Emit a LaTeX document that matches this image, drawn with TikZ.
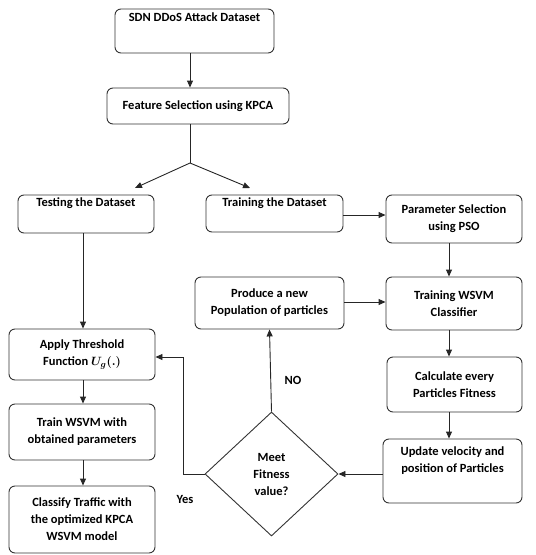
\documentclass[tikz,border=0pt]{standalone}
\usepackage{amsmath}
\usepackage{fontspec}
\setmainfont{Carlito}
\usepackage{tikz}
\usetikzlibrary{shapes.geometric,arrows.meta}
\tikzset{
  box/.style={draw=black!80, line width=0.9pt, rounded corners=6pt, align=center, inner sep=2pt},
  arr/.style={black!85, line width=0.9pt, -{Triangle[length=7pt,width=6pt]}},
  txt/.style={font=\bfseries\boldmath\fontsize{12.5}{17}\selectfont}
}
\begin{document}
\begin{tikzpicture}[x=1pt,y=-1pt,txt]
   \useasboundingbox (0,0) rectangle (536,555);
   % top of the chart
   \node [box,minimum width=159pt,minimum height=44pt] (sdn) at (194.5,31) {SDN DDoS Attack Dataset\\[10pt]};
   \node [box,minimum width=182pt,minimum height=36pt] (feat) at (198,106) {Feature Selection using KPCA};
   \coordinate (split) at (190,163);
   \coordinate (totest) at (135,188);
   \coordinate (totrain) at (250,188);
   % the three boxes in a row
   \node [box,minimum width=136pt,minimum height=38pt] (test) at (86,214) {Testing the Dataset\\[6pt]};
   \node [box,minimum width=137pt,minimum height=37pt] (train) at (274.5,213.5) {Training the Dataset\\[6pt]};
   \node [box,minimum width=136pt,minimum height=48pt] (param) at (454,219) {Parameter Selection\\using PSO};
   % left column
   \node [box,minimum width=146pt,minimum height=51pt] (apply) at (82,354.5) {Apply Threshold\\Function $U_g(.)$};
   \node [box,minimum width=146pt,minimum height=56pt] (trainw) at (82,432) {Train WSVM with\\obtained parameters};
   \node [box,minimum width=146pt,minimum height=67pt] (classify) at (82,519.5) {Classify Traffic with\\the optimized KPCA\\WSVM model};
   % PSO loop
   \node [box,minimum width=149pt,minimum height=52pt] (produce) at (269.5,303) {Produce a new\\Population of particles};
   \node [box,minimum width=136pt,minimum height=53pt] (wsvm) at (454,303.5) {Training WSVM\\Classifier};
   \node [box,minimum width=135pt,minimum height=55pt] (calc) at (454.5,384.5) {Calculate every\\Particles Fitness};
   \node [box,minimum width=139pt,minimum height=64pt] (update) at (452.5,471) {Update velocity and\\position of Particles\\[6pt]};
   \node [draw=black!80,line width=0.9pt,diamond,minimum width=133pt,minimum height=124pt,inner sep=0pt,align=center] (fit) at (271.5,474) {Meet\\Fitness\\value?};
   \node (no) at (293,380) {NO};
   \node (yes) at (185,499) {Yes};
   % connectors
   \draw [arr] (sdn.south -| split) -- (feat.north -| split);
   \draw [black!85,line width=0.9pt] (feat.south -| split) -- (split); % stem
   \draw [arr] (split) -- (totest);
   \draw [arr] (split) -- (totrain);
   \draw [arr] (train.east |- 0,215) -- (param.west |- 0,215);
   \draw [arr] (test.south -| 83,0) -- (apply.north -| 83,0);
   \draw [arr] (apply.south -| 83,0) -- (trainw.north -| 83,0);
   \draw [arr] (trainw.south -| 83,0) -- (classify.north -| 83,0);
   \draw [arr] (param.south -| 449,0) -- (wsvm.north -| 449,0);
   \draw [arr] (wsvm.south -| 449,0) -- (calc.north -| 449,0);
   \draw [arr] (calc.south -| 449,0) -- (update.north -| 449,0);
   \draw [arr] (produce.east |- 0,302) -- (wsvm.west |- 0,302);
   \draw [arr] (update.west |- fit) -- (fit.east);
   \draw [arr] (fit.north) -- (produce.south);
   \draw [arr] (fit.west) -- (183,474) |- (apply.east |- 0,357); % yes branch
\end{tikzpicture}
\end{document}
